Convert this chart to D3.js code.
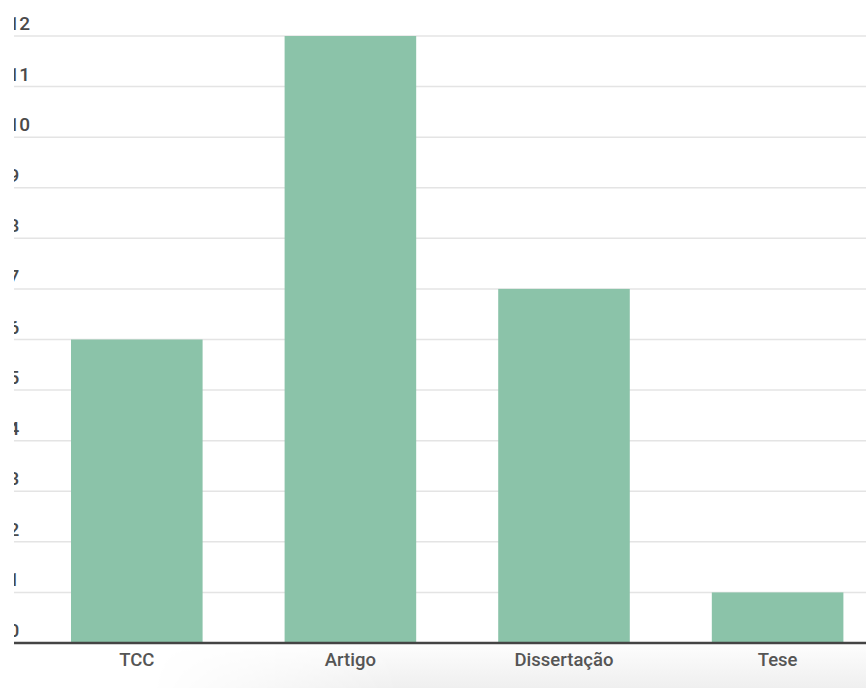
<!DOCTYPE html>
<html>
<head>
<meta charset="utf-8">
<script src="https://cdn.jsdelivr.net/npm/d3@7"></script>
<style>
  html, body { margin: 0; padding: 0; background: #fff; }
  svg { display: block; font-family: Roboto, "Noto Sans", sans-serif; }
</style>
</head>
<body>
<svg id="chart" width="866" height="688"></svg>
<script>
// Publication types and how many of each
const categories = ["TCC", "Artigo", "Dissertação", "Tese"];
const counts = [6, 12, 7, 1];
const yTicks = [0, 1, 2, 3, 4, 5, 6, 7, 8, 9, 10, 11, 12];

const W = 866, H = 688;
const plotLeft = 14, plotRight = 866;
const svg = d3.select("#chart");

const x = d3.scaleBand()
  .domain(categories)
  .range([30, 884.4])
  .paddingInner(0.384)
  .paddingOuter(0.192);

const y = d3.scaleLinear().domain([0, 12]).range([643, 36]);

const defs = svg.append("defs");

// Soft card shadow along the bottom edge
const vg = defs.append("linearGradient").attr("id", "shadeV")
  .attr("x1", 0).attr("y1", 0).attr("x2", 0).attr("y2", 1);
vg.append("stop").attr("offset", 0).attr("stop-color", "#fdfdfd");
vg.append("stop").attr("offset", 1).attr("stop-color", "#efefef");
const hg = defs.append("linearGradient").attr("id", "shadeH")
  .attr("x1", 0).attr("y1", 0).attr("x2", 1).attr("y2", 0);
hg.append("stop").attr("offset", 0).attr("stop-color", "#000");
hg.append("stop").attr("offset", 0.35).attr("stop-color", "#fff");
hg.append("stop").attr("offset", 1).attr("stop-color", "#fff");
defs.append("mask").attr("id", "shadeMask")
  .append("rect").attr("x", 150).attr("y", 645).attr("width", 716).attr("height", 43)
  .attr("fill", "url(#shadeH)");
svg.append("rect")
  .attr("x", 150).attr("y", 645).attr("width", 716).attr("height", 43)
  .attr("fill", "url(#shadeV)")
  .attr("mask", "url(#shadeMask)");

// The plot is cut at its left edge
defs.append("clipPath").attr("id", "plotClip")
  .append("rect").attr("x", plotLeft).attr("y", 0).attr("width", W - plotLeft).attr("height", H);

const g = svg.append("g").attr("clip-path", "url(#plotClip)");

// Horizontal grid lines
g.append("g").selectAll("line")
  .data(yTicks.filter(d => d > 0))
  .join("line")
  .attr("x1", plotLeft).attr("x2", plotRight)
  .attr("y1", d => y(d)).attr("y2", d => y(d))
  .attr("stroke", "#e4e4e4").attr("stroke-width", 1.5);

// Y tick labels sit above their grid lines
g.append("g").selectAll("text")
  .data(yTicks)
  .join("text")
  .attr("x", 8.5)
  .attr("y", d => y(d) - 6)
  .attr("font-size", 19)
  .attr("font-weight", 500)
  .attr("fill", "#4a4a4a")
  .text(d => d);

// Bars
g.append("g").selectAll("rect")
  .data(categories)
  .join("rect")
  .attr("x", d => x(d))
  .attr("width", x.bandwidth())
  .attr("y", (d, i) => y(counts[i]))
  .attr("height", (d, i) => y(0) - y(counts[i]))
  .attr("fill", "#8bc3a9");

// Baseline
g.append("line")
  .attr("x1", plotLeft).attr("x2", plotRight)
  .attr("y1", y(0)).attr("y2", y(0))
  .attr("stroke", "#444").attr("stroke-width", 2.5);

// Category labels
const xAxis = d3.axisBottom(x).tickSize(0).tickPadding(0);
const xa = svg.append("g").attr("transform", `translate(0,${y(0)})`).call(xAxis);
xa.select(".domain").remove();
xa.selectAll("text")
  .attr("dy", 0)
  .attr("y", 23)
  .attr("font-size", 18.5)
  .attr("font-weight", 500)
  .attr("font-family", "Roboto, sans-serif")
  .attr("fill", "#555");
</script>
</body>
</html>
